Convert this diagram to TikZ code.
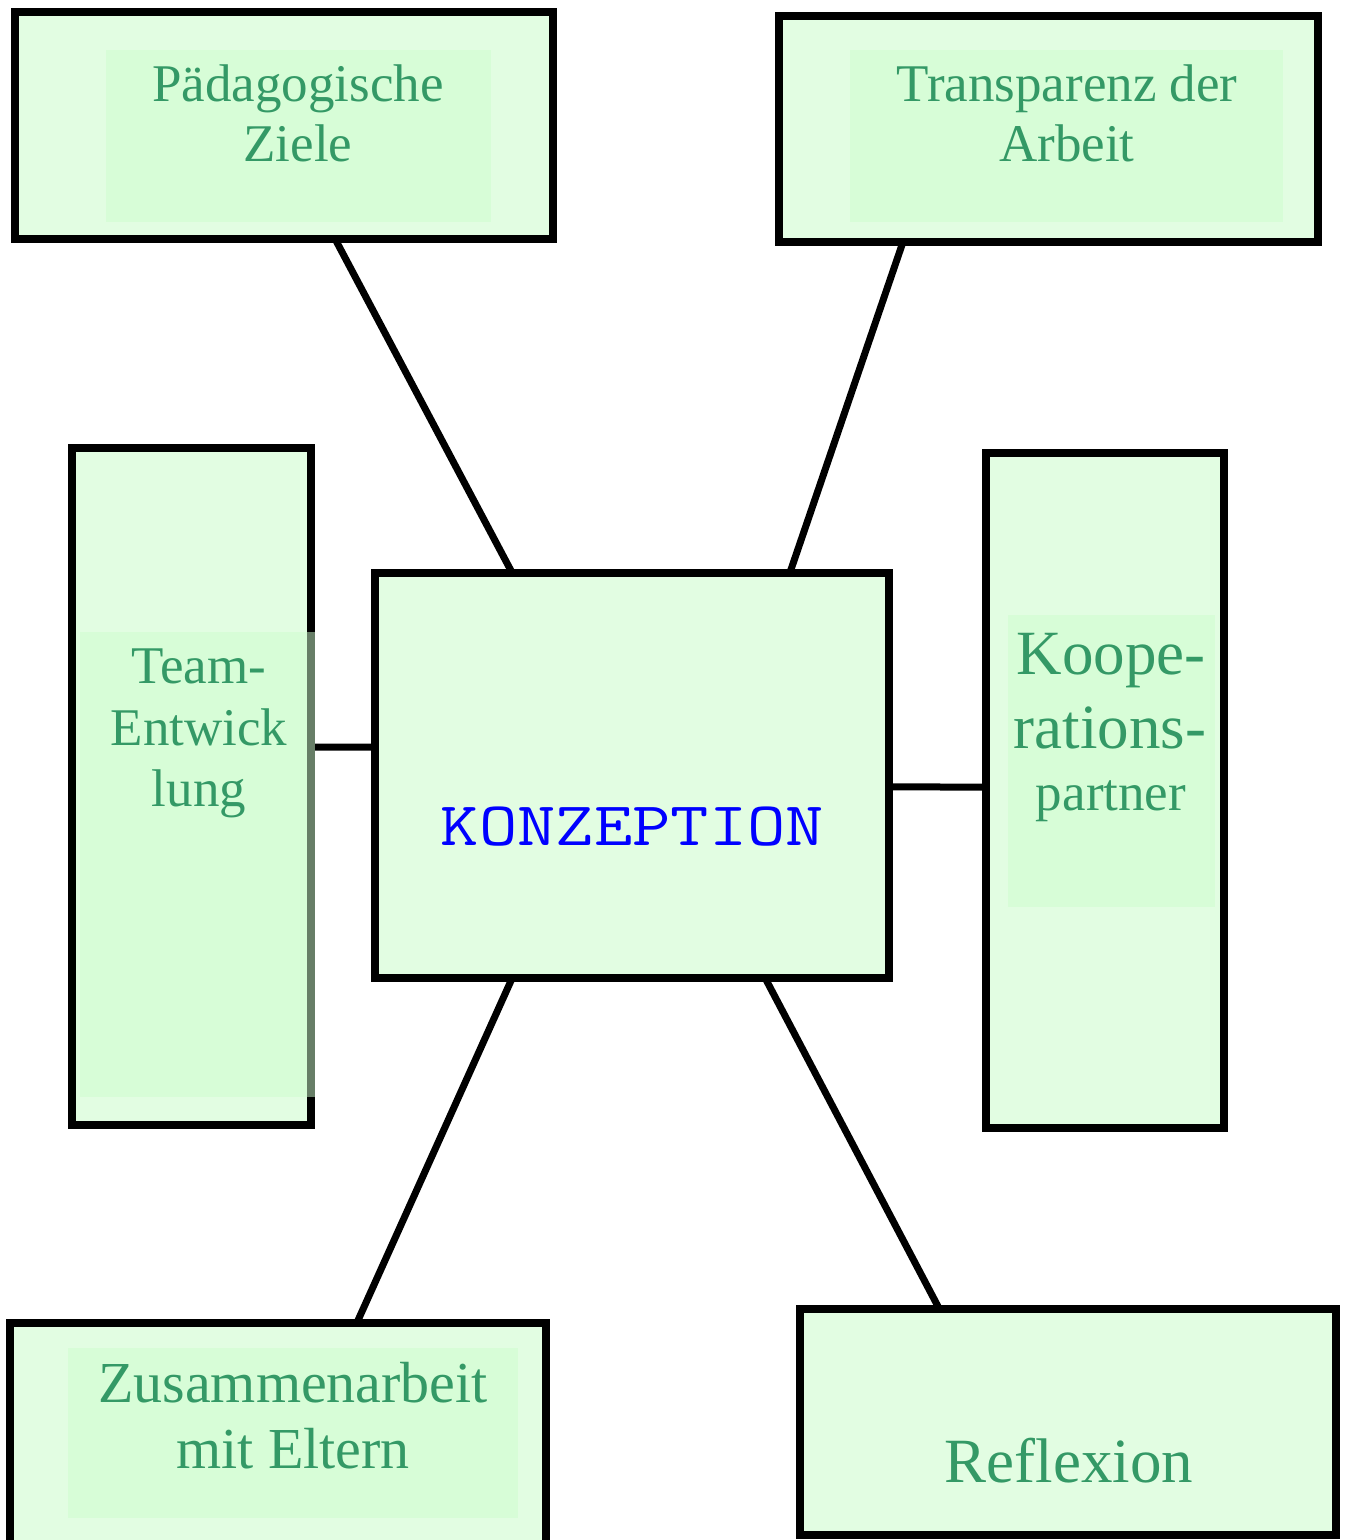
\documentclass[tikz,border=0pt]{standalone}
\usepackage{fontspec}
\usepackage{graphicx}
\setmainfont{Liberation Serif}
\usetikzlibrary{calc,backgrounds}
\definecolor{boxfill}{RGB}{226,253,226}
\definecolor{innerfill}{RGB}{206,253,206}
\definecolor{txtgreen}{RGB}{52,153,102}
\begin{document}
\begin{tikzpicture}[x=1pt,y=-1pt,
  box/.style={draw=black,line width=7.5pt,fill=boxfill,rectangle,inner sep=0pt,outer sep=0pt},
  innerbox/.style={fill=innerfill,fill opacity=0.5,draw=none},
  lbl/.style={text=txtgreen,anchor=base,inner sep=0pt,font=\fontsize{53}{60}\selectfont},
  lblbig/.style={text=txtgreen,anchor=base,inner sep=0pt,font=\fontsize{63}{70}\selectfont},
  link/.style={line width=7pt,draw=black}]
\useasboundingbox (0,0) rectangle (1350,1540);

% boxes
\node[box,minimum width=538pt,minimum height=227pt] (ped)  at (284,125.5) {};
\node[box,minimum width=539pt,minimum height=226pt] (tra)  at (1048.5,129) {};
\node[box,minimum width=239pt,minimum height=677pt] (team) at (191.5,786.5) {};
\node[box,minimum width=238pt,minimum height=675pt] (koop) at (1105,790.5) {};
\node[box,minimum width=514pt,minimum height=405pt] (konz) at (632,775.5) {};
\node[box,minimum width=536pt,minimum height=247pt] (zus)  at (278,1446.5) {};
\node[box,minimum width=536pt,minimum height=226pt] (refl) at (1068,1422) {};

% white page and connectors (behind the boxes)
\begin{scope}[on background layer]
\fill[white] (0,0) rectangle (1350,1540);
\draw[link] ($(ped.south west)!0.595!(ped.south east)$) -- ($(konz.north west)!0.267!(konz.north east)$);
\draw[link] ($(tra.south west)!0.23!(tra.south east)$) -- ($(konz.north west)!0.807!(konz.north east)$);
\draw[link] ($(team.north east)!0.442!(team.south east)$) -- ($(konz.north west)!0.43!(konz.south west)$);
\draw[link] ($(koop.north west)!0.495!(koop.south west)$) -- ($(konz.north east)!0.528!(konz.south east)$);
\draw[link] ($(zus.north west)!0.647!(zus.north east)$) -- ($(konz.south west)!0.267!(konz.south east)$);
\draw[link] ($(refl.north west)!0.26!(refl.north east)$) -- ($(konz.south west)!0.759!(konz.south east)$);
\end{scope}

% inner highlight areas
\fill[innerbox] (106,50) rectangle (491,222);
\fill[innerbox] (850,50) rectangle (1283,222);
\fill[innerbox] (80,632) rectangle (315,1097);
\fill[innerbox] (1008,615) rectangle (1215,907);
\fill[innerbox] (68,1348) rectangle (518,1518);

% texts
\node[lbl] (pedA) at (298,101) {Pädagogische};
\node[lbl] (pedB) at (298,161) {Ziele};
\node[lbl] (traA) at (1067,101) {Transparenz der};
\node[lbl] (traB) at (1067,161) {Arbeit};
\node[lbl] (teamA) at (199,683) {Team-};
\node[lbl] (teamB) at (199,745) {Entwick};
\node[lbl] (teamC) at (199,806) {lung};
\node[lblbig] (koopA) at (1111,674) {Koope-};
\node[lblbig] (koopB) at (1110,748) {rations-};
\node[lbl] (koopC) at (1111,810) {partner};
\node[anchor=base,inner sep=0pt,text=blue,font=\ttfamily\fontsize{62}{68}\selectfont] (konzT) at (632.5,845) {\scalebox{1.2}[1]{KONZEPTION}};
\node[lbl,font=\fontsize{58}{66}\selectfont] (zusA) at (293,1402) {Zusammenarbeit};
\node[lbl,font=\fontsize{58}{66}\selectfont] (zusB) at (293,1468) {mit Eltern};
\node[lblbig] (reflA) at (1069,1482) {Reflexion};
\end{tikzpicture}
\end{document}
